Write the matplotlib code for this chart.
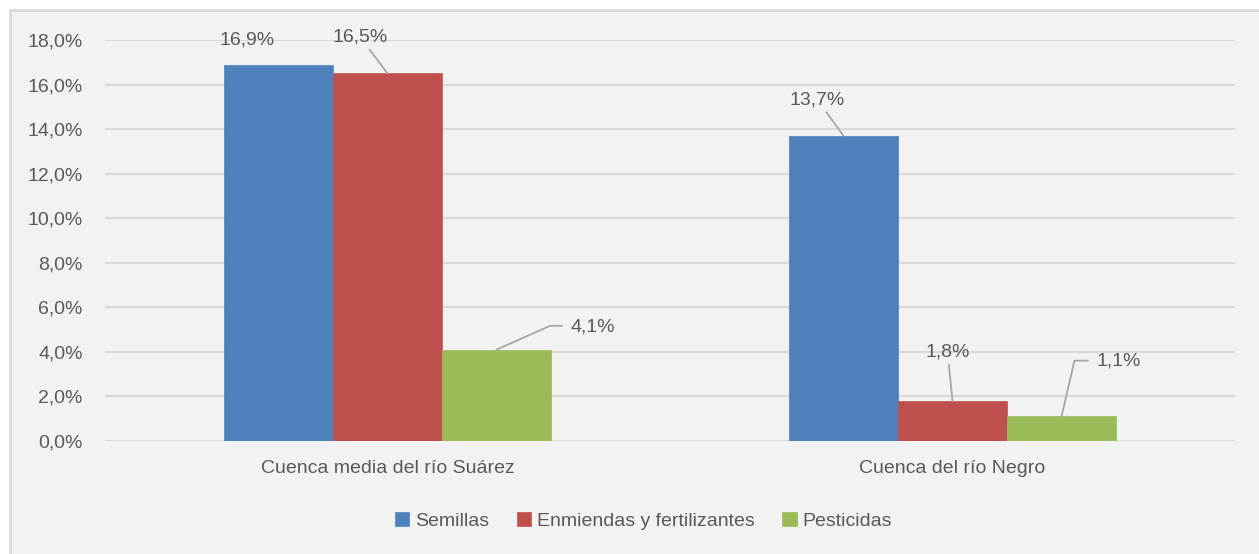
import matplotlib.pyplot as plt
import matplotlib.patches as mpatches
from matplotlib.ticker import FuncFormatter, MultipleLocator
import numpy as np

# datos
cuencas = ["Cuenca media del río Suárez", "Cuenca del río Negro"]
series = ["Semillas", "Enmiendas y fertilizantes", "Pesticidas"]
semillas = [16.9, 13.7]
enmiendas = [16.5, 1.8]
pesticidas = [4.1, 1.1]
colores = ["#4F81BD", "#C0504D", "#9BBB59"]

TXT = "#595959"
FS = 14
plt.rcParams["font.family"] = ["Liberation Sans Narrow", "Liberation Sans", "DejaVu Sans"]
plt.rcParams["font.size"] = FS

W, H = 1259, 554
fig = plt.figure(figsize=(W / 100, H / 100), dpi=100, facecolor="white")

# marco del gráfico (estilo Excel)
fig.patches.append(mpatches.Rectangle(
    (10 / W, -0.1), 1.2, (H - 10) / H + 0.1, transform=fig.transFigure,
    facecolor="#F2F2F2", edgecolor="#D9D9D9", linewidth=2, zorder=-5))

ax = fig.add_axes([105 / W, (H - 441) / H, 1130 / W, 401 / H])
ax.set_facecolor("none")

x = np.arange(len(cuencas))
ancho = 0.193
valores = [semillas, enmiendas, pesticidas]
barras = []
for i, (vals, c, nombre) in enumerate(zip(valores, colores, series)):
    b = ax.bar(x + (i - 1) * ancho, vals, ancho, color=c, label=nombre,
               edgecolor=c, linewidth=0.5, zorder=3)
    barras.append(b)

ax.set_xlim(-0.5, 1.5)
ax.set_ylim(0, 18)
ax.yaxis.set_major_locator(MultipleLocator(2))
ax.yaxis.set_major_formatter(FuncFormatter(lambda v, p: f"{v:.1f}%".replace(".", ",")))
ax.set_xticks(x)
ax.set_xticklabels(cuencas)
ax.tick_params(axis="x", length=0, pad=14, colors=TXT, labelsize=FS)
ax.tick_params(axis="y", length=0, pad=16, colors=TXT, labelsize=FS)
ax.grid(axis="y", color="#D9D9D9", linewidth=1.6, zorder=0)
ax.set_axisbelow(True)
for s in ax.spines.values():
    s.set_visible(False)

# etiquetas de datos: (serie, grupo, desplazamiento px, estilo de línea guía)
etiquetas = [
    (0, 0, (-31, 25), None),
    (1, 0, (-27, 36), "recta"),
    (2, 0, (96, 23), ("codo", 24)),
    (0, 1, (-26, 36), "recta"),
    (1, 1, (-5, 49), "recta"),
    (2, 1, (57, 55), ("codo", 77)),
]
for s, g, off, guia in etiquetas:
    rect = barras[s][g]
    xb = rect.get_x() + rect.get_width() / 2
    yb = rect.get_height()
    txt = f"{yb:.1f}%".replace(".", ",")
    kw = {}
    if guia == "recta":
        kw["arrowprops"] = dict(arrowstyle="-", color="#A6A6A6", lw=1.3,
                                shrinkA=1, shrinkB=0)
    elif guia is not None:
        kw["arrowprops"] = dict(arrowstyle="-", color="#A6A6A6", lw=1.3,
                                shrinkA=4, shrinkB=0, relpos=(0, 0.55),
                                connectionstyle=f"angle,angleA=180,angleB={guia[1]},rad=0")
    ax.annotate(txt, xy=(xb, yb), xytext=off, textcoords="offset pixels",
                ha="center", va="center", color=TXT, fontsize=FS, zorder=5, **kw)

fig.legend(loc="center", bbox_to_anchor=(0.511, (H - 521) / H), ncol=3, frameon=False,
           handlelength=0.75, handleheight=0.75, handletextpad=0.3,
           columnspacing=1.4, labelcolor=TXT, fontsize=FS)

fig.savefig("out.png", dpi=100)
